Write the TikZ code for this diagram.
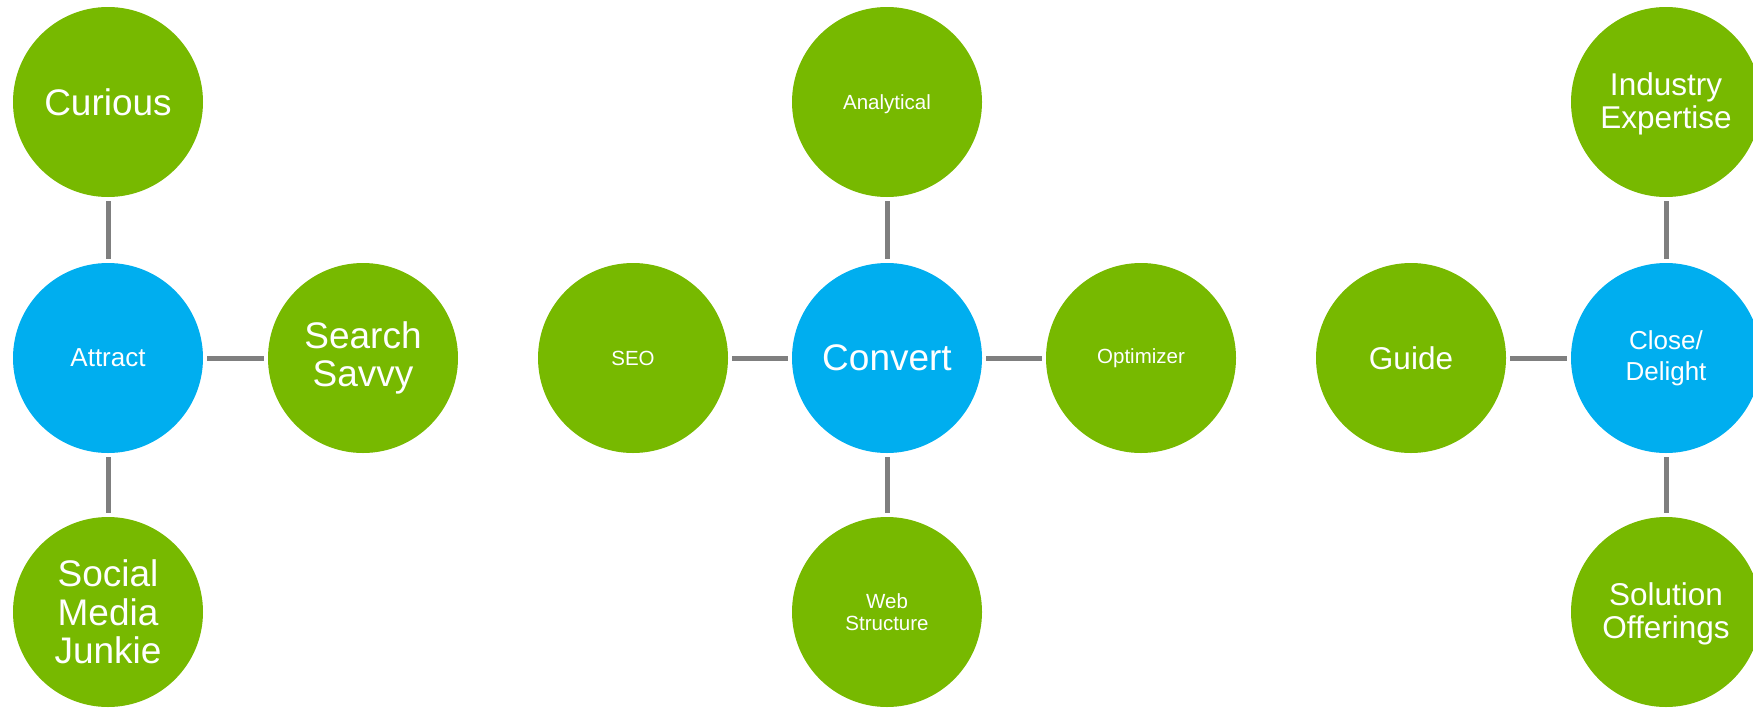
\documentclass[tikz,border=0pt]{standalone}
\usepackage{fontspec}
\setmainfont{Liberation Sans}
\definecolor{grn}{HTML}{77B900}
\definecolor{blu}{HTML}{00AEEF}
\definecolor{lnk}{HTML}{7F7F7F}
\newcommand{\padtop}[2]{\raisebox{0pt}[\dimexpr\height+#1\relax]{#2}}
\tikzset{
  bub/.style={circle, minimum size=190pt, inner sep=0pt, text=white, align=center},
  gbub/.style={bub, fill=grn},
  bbub/.style={bub, fill=blu},
  big/.style={font=\fontsize{37}{38.5}\selectfont},
  mid/.style={font=\fontsize{31.5}{33.5}\selectfont},
  sml/.style={font=\fontsize{26}{31}\selectfont},
  tiny/.style={font=\fontsize{20.5}{22}\selectfont},
  link/.style={draw=lnk, line width=5pt, shorten >=4pt, shorten <=4pt}
}
\begin{document}
\begin{tikzpicture}[x=1pt, y=-1pt]
\useasboundingbox (0,0) rectangle (1753,707);
% group 1
\node[gbub, big] (cur) at (108,102) {Curious};
\node[bbub, sml] (att) at (108,358) {Attract};
\node[gbub, big] (smj) at (108,612) {Social\\Media\\Junkie};
\node[gbub, big] (ss) at (363,358) {Search\\Savvy};
% group 2
\node[gbub, tiny] (seo) at (633,358) {SEO};
\node[bbub, big] (con) at (887,358) {Convert};
\node[gbub, tiny] (ana) at (887,102) {\raisebox{0pt}[\height][0pt]{Analytical}};
\node[gbub, tiny] (web) at (887,612) {Web\\Structure};
\node[gbub, tiny] (opt) at (1141,358) {Optimizer};
% group 3
\node[gbub, mid] (gui) at (1411,358) {Guide};
\node[bbub, sml] (cld) at (1666,358) {Close/\\Delight};
\node[gbub, mid] (ind) at (1666,102) {\padtop{4pt}{Industry}\\Expertise};
\node[gbub, mid] (sol) at (1666,612) {\padtop{4pt}{Solution}\\Offerings};
% links
\draw[link] (cur) -- (att);
\draw[link] (att) -- (smj);
\draw[link] (att) -- (ss);
\draw[link] (seo) -- (con);
\draw[link] (ana) -- (con);
\draw[link] (con) -- (web);
\draw[link] (con) -- (opt);
\draw[link] (gui) -- (cld);
\draw[link] (ind) -- (cld);
\draw[link] (cld) -- (sol);
\end{tikzpicture}
\end{document}
